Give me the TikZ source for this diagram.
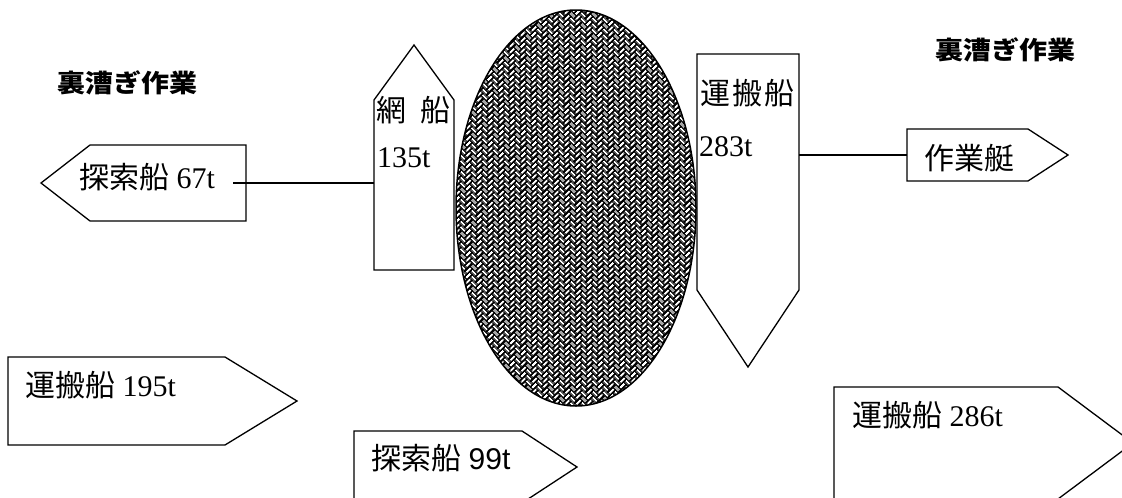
\documentclass[tikz,border=0pt]{standalone}
\usepackage{fontspec}
\usepackage{graphicx}
\setmainfont{Liberation Serif}
\setsansfont{Liberation Sans}
\newfontfamily\jp{Noto Sans CJK JP}
\usetikzlibrary{patterns.meta}
\newcommand\wt[1]{\scalebox{1.12}[1]{#1}}
\tikzdeclarepattern{
  name=ajiro,
  bounding box={(0pt,0pt) and (16pt,16pt)},
  tile size={(16pt,16pt)},
  tile transformation={rotate=45},
  code={
    \foreach \k in {-1,...,4}{
      \foreach \m in {-1,0,1}{
        \fill ({(4*\k+16*\m+0.95)*1pt},{(4*\k+0.95)*1pt}) rectangle ++(6.1pt,2.1pt);
        \fill ({(4*\k+8+16*\m+0.95)*1pt},{(4*\k-4+0.95)*1pt}) rectangle ++(2.1pt,6.1pt);
      }
    }
  }
}
\tikzset{
  ship/.style={draw=black, fill=white, line width=1.3pt, line join=miter},
  body/.style={draw=none, inner sep=0pt, outer sep=0pt, rectangle},
  lbl/.style={inner sep=0pt, anchor=west, font=\fontsize{30}{34}\selectfont},
  ttl/.style={inner sep=0pt, font=\jp\bfseries\fontsize{25}{29}\selectfont},
  conn/.style={line width=1.2pt},
}
\begin{document}
\begin{tikzpicture}[x=1pt,y=-1pt]
\useasboundingbox (0,0) rectangle (1122,498);
\fill[white] (0,0) rectangle (1122,498);

% net (hatched ellipse)
\path[fill=black] (576,208) ellipse [x radius=120, y radius=198];
\path[pattern=ajiro, pattern color=white] (576,208) ellipse [x radius=120, y radius=198];
\draw[line width=1.5pt] (576,208) ellipse [x radius=120, y radius=198];

% bodies
\node[body, minimum width=156pt, minimum height=76pt] (s67) at (168,183) {};
\node[body, minimum width=80pt, minimum height=170pt] (net) at (414,185) {};
\node[body, minimum width=102pt, minimum height=236pt] (p283) at (748,172) {};
\node[body, minimum width=121pt, minimum height=52pt] (wk) at (967.5,155) {};
\node[body, minimum width=217pt, minimum height=88pt] (p195) at (116.5,401) {};
\node[body, minimum width=168pt, minimum height=72pt] (p99) at (438,467) {};
\node[body, minimum width=224pt, minimum height=112pt] (p286) at (946,443) {};

% outlines
\draw[ship] (s67.north east) -- (s67.north west) -- ([xshift=-49pt]s67.west) -- (s67.south west) -- (s67.south east) -- cycle;
\draw[ship] (net.south west) -- (net.north west) -- ([yshift=55pt]net.north) -- (net.north east) -- (net.south east) -- cycle;
\draw[ship] (p283.north west) -- (p283.north east) -- (p283.south east) -- ([yshift=-77pt]p283.south) -- (p283.south west) -- cycle;
\draw[ship] (wk.north west) -- (wk.north east) -- ([xshift=40pt]wk.east) -- (wk.south east) -- (wk.south west) -- cycle;
\draw[ship] (p195.north west) -- (p195.north east) -- ([xshift=72pt]p195.east) -- (p195.south east) -- (p195.south west) -- cycle;
\draw[ship] (p99.north west) -- (p99.north east) -- ([xshift=55pt]p99.east) -- (p99.south east) -- (p99.south west) -- cycle;
\draw[ship] (p286.north west) -- (p286.north east) -- ([xshift=75pt]p286.east) -- (p286.south east) -- (p286.south west) -- cycle;

% connectors
\draw[conn] ([xshift=-13pt]s67.east) -- (s67.east -| net.west);
\draw[conn] (p283.east |- wk.west) -- (wk.west);

% texts
\node[ttl] (title1) at (127,83) {\wt{裏漕ぎ作業}};
\node[ttl] (title2) at (1005,50) {\wt{裏漕ぎ作業}};
\node[lbl] (t67) at (79,177) {{\jp 探索船} 67t};
\node[lbl] (tnet) at (376,110) {{\jp 網\hspace{14pt}船}};
\node[lbl] (t135) at (377,158) {135t};
\node[lbl] (tunp) at (700,93) {{\jp 運\hspace{2pt}搬\hspace{2pt}船}};
\node[lbl] (t283) at (699,147) {283t};
\node[lbl] (twk) at (924,158) {{\jp 作業艇}};
\node[lbl] (t195) at (25,385) {{\jp 運搬船} 195t};
\node[lbl] (t99) at (371,458) {{\jp 探索船} \sffamily 99t};
\node[lbl] (t286) at (852,415) {{\jp 運搬船} 286t};
\end{tikzpicture}
\end{document}
